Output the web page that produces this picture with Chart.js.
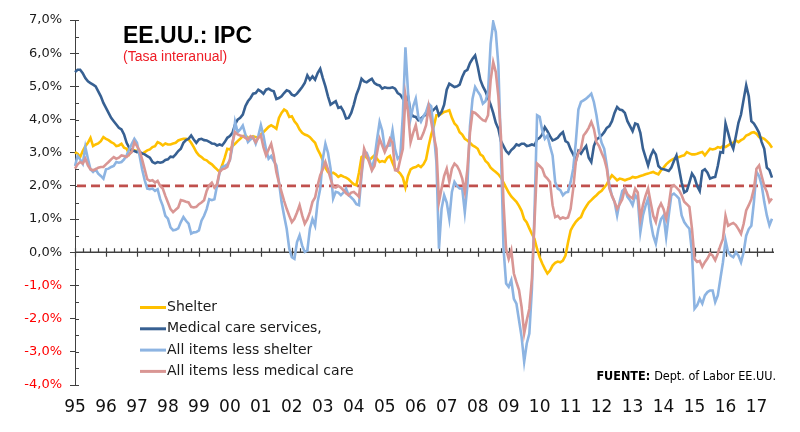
<!DOCTYPE html>
<html>
<head>
<meta charset="utf-8">
<script src="https://cdn.jsdelivr.net/npm/chart.js@4.4.1/dist/chart.umd.min.js"></script>
<style>
  html, body { margin: 0; padding: 0; background: #fff; }
</style>
</head>
<body>
<canvas id="ipcChart" width="800" height="432"></canvas>
<script>
// etiquetas de año (eje X) y meses del ultimo año
var years = ['95','96','97','98','99','00','01','02','03','04','05','06','07','08','09','10','11','12','13','14','15','16','17'];
var monthsLastYear = 7;

var seriesNames = ['Shelter', 'Medical care services,', 'All items less shelter', 'All items less medical care'];

// tasa interanual mensual, ene-1995 .. jul-2017
var shelter = [
  3.02,2.97,2.87,3.05,3.2,3.3,3.45,3.2,3.25,3.28,3.35,3.47,
  3.42,3.38,3.32,3.28,3.2,3.22,3.27,3.15,3.12,2.95,3.05,3.07,
  3.05,3.0,2.97,3.02,3.07,3.1,3.17,3.2,3.32,3.28,3.22,3.28,
  3.25,3.25,3.28,3.3,3.37,3.4,3.42,3.42,3.4,3.3,3.17,3.02,
  2.92,2.87,2.8,2.77,2.7,2.65,2.57,2.5,2.42,2.62,2.85,3.12,
  3.1,3.2,3.27,3.35,3.42,3.5,3.52,3.45,3.45,3.5,3.47,3.45,
  3.55,3.62,3.7,3.78,3.83,3.78,3.72,4.05,4.2,4.3,4.25,4.08,
  4.1,3.95,3.85,3.7,3.6,3.55,3.52,3.47,3.38,3.3,3.1,2.95,
  2.77,2.55,2.42,2.37,2.4,2.35,2.27,2.32,2.28,2.25,2.2,2.12,
  2.05,2.02,2.4,2.87,2.92,2.85,2.77,2.85,2.92,2.82,2.72,2.75,
  2.72,2.85,2.9,2.7,2.52,2.45,2.37,2.25,1.95,2.3,2.5,2.55,
  2.57,2.62,2.57,2.65,2.8,3.2,3.55,3.8,4.13,4.13,4.18,4.23,
  4.25,4.28,4.05,3.88,3.8,3.62,3.55,3.42,3.37,3.3,3.22,3.18,
  3.12,2.95,2.9,2.75,2.68,2.55,2.48,2.42,2.35,2.25,2.1,1.95,
  1.8,1.68,1.6,1.52,1.4,1.25,1.0,0.9,0.72,0.55,0.4,0.1,
  -0.15,-0.34,-0.5,-0.64,-0.55,-0.4,-0.32,-0.28,-0.3,-0.25,-0.1,0.3,
  0.66,0.8,0.92,1.0,1.06,1.25,1.38,1.5,1.57,1.65,1.72,1.8,
  1.85,1.95,2.05,2.2,2.32,2.25,2.17,2.22,2.2,2.17,2.2,2.22,
  2.27,2.25,2.27,2.3,2.32,2.35,2.37,2.4,2.42,2.38,2.35,2.47,
  2.55,2.65,2.72,2.78,2.82,2.85,2.87,2.9,2.92,3.02,2.98,2.95,
  2.95,2.97,3.0,3.02,2.92,3.02,3.12,3.1,3.12,3.17,3.15,3.2,
  3.17,3.22,3.27,3.3,3.37,3.32,3.38,3.42,3.52,3.55,3.6,3.62,
  3.57,3.47,3.45,3.42,3.35,3.27,3.15
];

var medicalServices = [
  5.43,5.5,5.5,5.4,5.25,5.15,5.1,5.05,5.0,4.85,4.7,4.5,
  4.35,4.2,4.05,3.95,3.85,3.75,3.7,3.55,3.3,3.15,3.07,3.05,
  3.02,3.03,2.98,2.95,2.9,2.85,2.72,2.68,2.72,2.7,2.72,2.78,
  2.8,2.88,2.87,2.95,3.05,3.12,3.3,3.38,3.42,3.52,3.4,3.3,
  3.4,3.42,3.38,3.37,3.33,3.28,3.27,3.22,3.25,3.22,3.32,3.45,
  3.5,3.6,3.85,4.0,4.05,4.15,4.4,4.55,4.65,4.78,4.8,4.9,
  4.85,4.78,4.9,4.93,4.88,4.85,4.62,4.65,4.7,4.8,4.88,4.85,
  4.75,4.72,4.78,4.88,4.98,5.1,5.33,5.2,5.3,5.2,5.4,5.53,
  5.25,5.0,4.7,4.45,4.5,4.55,4.35,4.38,4.25,4.03,4.05,4.2,
  4.45,4.75,4.95,5.23,5.15,5.12,5.18,5.23,5.1,5.05,5.03,4.93,
  4.97,4.95,4.95,4.97,4.93,4.8,4.75,4.63,4.53,4.7,4.2,4.1,
  4.08,3.98,4.03,4.1,4.15,4.28,4.23,4.3,4.38,4.13,4.23,4.45,
  4.9,5.08,5.03,4.98,5.0,5.05,5.28,5.45,5.5,5.7,5.83,5.93,
  5.6,5.2,5.0,4.85,4.65,4.45,4.2,3.9,3.72,3.35,3.2,3.05,
  2.97,3.08,3.15,3.25,3.22,3.27,3.27,3.2,3.22,3.25,3.22,3.4,
  3.45,3.55,3.77,3.65,3.5,3.37,3.4,3.45,3.55,3.62,3.35,3.3,
  3.1,2.95,2.75,3.05,2.97,3.1,3.2,2.85,2.72,3.2,3.4,3.45,
  3.52,3.62,3.75,3.8,3.95,4.2,4.38,4.3,4.28,4.2,3.95,3.8,
  3.65,3.88,3.85,3.6,3.12,2.87,2.62,2.9,3.07,2.95,2.6,2.52,
  2.5,2.48,2.45,2.55,2.75,2.92,2.52,2.1,1.8,1.85,2.1,2.37,
  2.25,2.0,1.85,2.45,2.5,2.4,2.22,2.25,2.27,2.6,3.02,3.0,
  3.88,3.6,3.3,3.12,3.5,3.9,4.15,4.6,5.03,4.7,3.95,3.88,
  3.75,3.6,3.32,3.12,2.55,2.48,2.25
];

var lessShelter = [
  2.6,2.9,2.8,2.67,3.17,2.82,2.5,2.42,2.5,2.37,2.3,2.22,
  2.5,2.52,2.57,2.6,2.72,2.7,2.72,2.8,2.92,3.1,3.27,3.42,
  3.3,2.92,2.5,2.17,1.92,1.9,1.92,1.85,1.9,1.6,1.4,1.1,
  1.01,0.75,0.66,0.68,0.72,0.91,1.06,0.95,0.86,0.56,0.6,0.61,
  0.66,0.95,1.1,1.3,1.6,1.57,1.6,2.0,2.4,2.57,2.6,2.65,
  2.77,3.2,3.93,3.62,3.7,3.82,3.55,3.32,3.4,3.47,3.27,3.5,
  3.83,3.52,3.1,2.82,2.9,2.75,2.62,2.12,1.52,1.1,0.71,0.11,
  -0.15,-0.2,0.31,0.51,0.2,0.01,0.05,0.71,1.0,0.8,1.52,1.92,
  2.82,3.27,3.0,2.52,1.62,1.82,1.8,1.72,1.8,1.92,1.72,1.65,
  1.57,1.45,1.42,2.32,3.02,3.0,2.8,2.52,2.82,3.4,3.93,3.67,
  3.12,3.2,3.22,3.67,3.1,2.82,2.9,4.13,6.18,4.83,4.03,4.4,
  4.63,4.08,3.93,4.1,4.23,4.48,4.4,3.6,2.72,0.11,1.31,1.72,
  1.5,1.01,1.82,2.12,2.0,1.92,1.92,1.21,2.0,3.8,4.63,4.98,
  4.85,4.73,4.48,4.55,4.83,6.28,6.94,6.64,5.63,3.12,0.11,-0.94,
  -1.04,-0.84,-1.4,-1.55,-2.05,-2.55,-3.3,-2.75,-2.45,-1.1,1.2,4.13,
  4.08,3.67,3.42,3.52,3.2,2.92,2.12,1.92,1.87,1.72,1.8,1.82,
  2.12,2.52,3.32,4.3,4.53,4.58,4.63,4.7,4.78,4.53,4.13,3.62,
  3.3,3.12,2.62,2.02,1.7,1.52,1.11,1.52,1.85,1.92,1.67,1.57,
  1.42,1.72,1.6,0.61,1.11,1.4,1.62,0.91,0.5,0.26,0.71,1.0,
  1.11,0.46,1.11,1.72,1.77,1.7,1.62,1.11,0.91,0.8,0.71,0.0,
  -1.7,-1.6,-1.4,-1.55,-1.3,-1.2,-1.15,-1.15,-1.5,-1.3,-0.8,-0.3,
  0.36,0.0,-0.1,-0.15,0.0,-0.1,-0.3,0.0,0.5,0.7,0.8,1.52,
  2.42,2.3,2.02,1.52,1.11,0.81,1.01
];

var lessMedical = [
  2.52,2.65,2.72,2.67,2.82,2.62,2.5,2.47,2.5,2.55,2.57,2.57,
  2.65,2.72,2.8,2.87,2.82,2.85,2.92,2.9,2.87,2.95,3.02,3.32,
  3.2,3.07,2.8,2.5,2.2,2.15,2.17,2.1,2.15,2.0,1.92,1.7,
  1.5,1.3,1.21,1.28,1.35,1.57,1.55,1.52,1.5,1.37,1.35,1.37,
  1.45,1.5,1.57,1.85,2.02,2.1,1.95,2.05,2.42,2.5,2.52,2.57,
  2.8,3.32,3.62,3.55,3.52,3.5,3.45,3.4,3.5,3.45,3.32,3.45,
  3.52,3.17,2.92,3.1,3.27,2.92,2.42,2.1,1.82,1.55,1.31,1.1,
  0.91,1.01,1.2,1.42,1.11,0.86,1.0,1.21,1.52,1.65,2.02,2.32,
  2.5,2.72,2.5,2.22,1.97,1.95,2.0,1.95,1.87,1.78,1.72,1.8,
  1.82,1.75,1.67,2.42,3.12,2.92,2.7,2.47,2.6,3.0,3.42,3.22,
  3.02,3.2,3.42,3.3,2.47,2.45,2.8,3.12,4.73,4.23,3.32,3.6,
  3.83,3.42,3.42,3.6,3.83,4.38,3.93,3.5,3.12,1.52,1.92,2.3,
  2.52,2.12,2.52,2.67,2.6,2.45,2.22,1.82,2.5,3.6,4.23,4.2,
  4.13,4.05,3.98,3.95,4.13,5.18,5.73,5.43,4.7,3.5,1.5,0.1,
  -0.2,0.06,-0.64,-0.9,-1.14,-1.65,-2.45,-2.05,-1.7,-0.8,0.9,2.67,
  2.6,2.52,2.3,2.22,2.12,1.42,1.06,1.1,1.01,1.05,1.02,1.05,
  1.31,1.92,2.72,3.0,3.12,3.52,3.62,3.75,3.93,3.72,3.32,3.2,
  3.0,2.82,2.52,1.92,1.7,1.52,1.31,1.45,1.6,1.92,1.75,1.67,
  1.62,1.92,1.8,1.01,1.42,1.7,1.92,1.5,1.1,0.91,1.31,1.47,
  1.3,1.01,1.42,1.97,2.02,1.95,1.87,1.72,1.52,1.45,1.37,0.71,
  -0.2,-0.29,-0.26,-0.44,-0.3,-0.19,-0.04,-0.1,-0.24,-0.04,0.2,0.4,
  1.1,0.8,0.85,0.88,0.82,0.7,0.56,0.85,1.26,1.42,1.6,1.92,
  2.52,2.62,2.3,2.0,1.82,1.52,1.62
];

var targetRate = 2; // linea discontinua del 2%

var labels = [];
for (let i = 0; i < years.length; i++) {
  var n = (i == years.length - 1) ? monthsLastYear : 12;
  for (let m = 1; m <= n; m++) labels.push(years[i] + '-' + m);
}

var colors = ['#FFC000', '#376092', '#8DB4E2', '#D99694'];
var axisColor = '#404040';

function fmtPct(v) {
  return v.toFixed(1).replace('.', ',') + '%';
}

var decorPlugin = {
  id: 'decor',
  beforeDatasetsDraw: function(chart) {
    var ctx = chart.ctx, xs = chart.scales.x, ys = chart.scales.y, area = chart.chartArea;
    var y0 = ys.getPixelForValue(0);
    ctx.save();
    // ticks menores del eje Y (hacia dentro)
    ctx.strokeStyle = axisColor;
    ctx.lineWidth = 1;
    ctx.beginPath();
    for (let v = ys.min; v <= ys.max; v += 0.5) {
      var py = Math.round(ys.getPixelForValue(v)) + 0.5;
      ctx.moveTo(area.left, py);
      ctx.lineTo(area.left + 4, py);
    }
    ctx.stroke();
    // eje en el 0% con ticks trimestrales
    ctx.lineWidth = 1.5;
    ctx.beginPath();
    ctx.moveTo(area.left, y0);
    ctx.lineTo(area.right + 2, y0);
    ctx.stroke();
    ctx.lineWidth = 1.2;
    ctx.beginPath();
    for (let i = 0; i < labels.length; i += 3) {
      var px = Math.round(xs.getPixelForValue(i)) + 0.5;
      if (i % 12 == 0) {
        ctx.moveTo(px, y0 - 4.5);
        ctx.lineTo(px, y0 + 4.5);
      } else {
        ctx.moveTo(px, y0 - 4);
        ctx.lineTo(px, y0);
      }
    }
    ctx.stroke();
    // objetivo 2%
    var yt = ys.getPixelForValue(targetRate);
    ctx.strokeStyle = '#C0504D';
    ctx.lineWidth = 2.6;
    ctx.setLineDash([9, 5]);
    ctx.beginPath();
    ctx.moveTo(area.left + 2, yt);
    ctx.lineTo(area.right, yt);
    ctx.stroke();
    ctx.restore();
  },
  afterDatasetsDraw: function(chart) {
    var ctx = chart.ctx;
    ctx.save();
    // titulo
    ctx.fillStyle = '#000';
    ctx.textBaseline = 'alphabetic';
    ctx.font = 'bold 23px "Liberation Sans", Arial, sans-serif';
    ctx.fillText('EE.UU.: IPC', 123, 43);
    ctx.fillStyle = '#EE1C25';
    ctx.font = '14px "Liberation Sans", Arial, sans-serif';
    ctx.fillText('(Tasa interanual)', 123, 61);
    // leyenda
    ctx.font = '14px "DejaVu Sans", Verdana, sans-serif';
    ctx.textBaseline = 'middle';
    for (let i = 0; i < seriesNames.length; i++) {
      var ly = 307.5 + i * 21.3;
      ctx.strokeStyle = colors[i];
      ctx.lineWidth = 3;
      ctx.beginPath();
      ctx.moveTo(140, ly);
      ctx.lineTo(166, ly);
      ctx.stroke();
      ctx.fillStyle = '#1a1a1a';
      ctx.fillText(seriesNames[i], 167, ly);
    }
    // fuente
    ctx.textBaseline = 'alphabetic';
    ctx.textAlign = 'right';
    ctx.fillStyle = '#000';
    ctx.font = '12.5px "DejaVu Sans Condensed", "DejaVu Sans", sans-serif';
    var src = 'Dept. of Labor EE.UU.';
    ctx.fillText(src, 776, 380);
    var w = ctx.measureText(src).width;
    ctx.font = 'bold 12.5px "DejaVu Sans Condensed", "DejaVu Sans", sans-serif';
    ctx.fillText('FUENTE:', 776 - w - 4, 380);
    ctx.restore();
  }
};

var datasets = [shelter, medicalServices, lessShelter, lessMedical].map(function(d, i) {
  return {
    label: seriesNames[i],
    data: d,
    borderColor: colors[i],
    backgroundColor: colors[i],
    borderWidth: 2.6,
    pointRadius: 0,
    tension: 0,
    fill: false,
    order: 4 - i
  };
});

new Chart(document.getElementById('ipcChart').getContext('2d'), {
  type: 'line',
  data: { labels: labels, datasets: datasets },
  options: {
    responsive: false,
    animation: false,
    layout: { padding: { left: 0, right: 28, top: 20, bottom: 0 } },
    plugins: { legend: { display: false }, tooltip: { enabled: false } },
    scales: {
      x: {
        type: 'category',
        offset: false,
        grid: { display: false, drawTicks: false },
        border: { display: false },
        ticks: {
          autoSkip: false,
          maxRotation: 0,
          padding: 12,
          color: '#111',
          font: { family: '"DejaVu Sans", Verdana, sans-serif', size: 17 },
          callback: function(value, index) {
            return index % 12 == 0 ? years[index / 12] : '';
          }
        },
        afterFit: function(scale) { scale.height = 47; }
      },
      y: {
        min: -4,
        max: 7,
        grid: { drawOnChartArea: false, drawTicks: true, tickLength: 5, color: axisColor },
        border: { display: true, color: axisColor, width: 1 },
        ticks: {
          stepSize: 1,
          padding: 8,
          font: { family: '"DejaVu Sans", Verdana, sans-serif', size: 13 },
          color: function(c) { return c.tick && c.tick.value < 0 ? '#FF0000' : '#1a1a1a'; },
          callback: function(v) { return fmtPct(v); }
        },
        afterFit: function(scale) { scale.width = 75; }
      }
    }
  },
  plugins: [decorPlugin]
});
</script>
</body>
</html>
